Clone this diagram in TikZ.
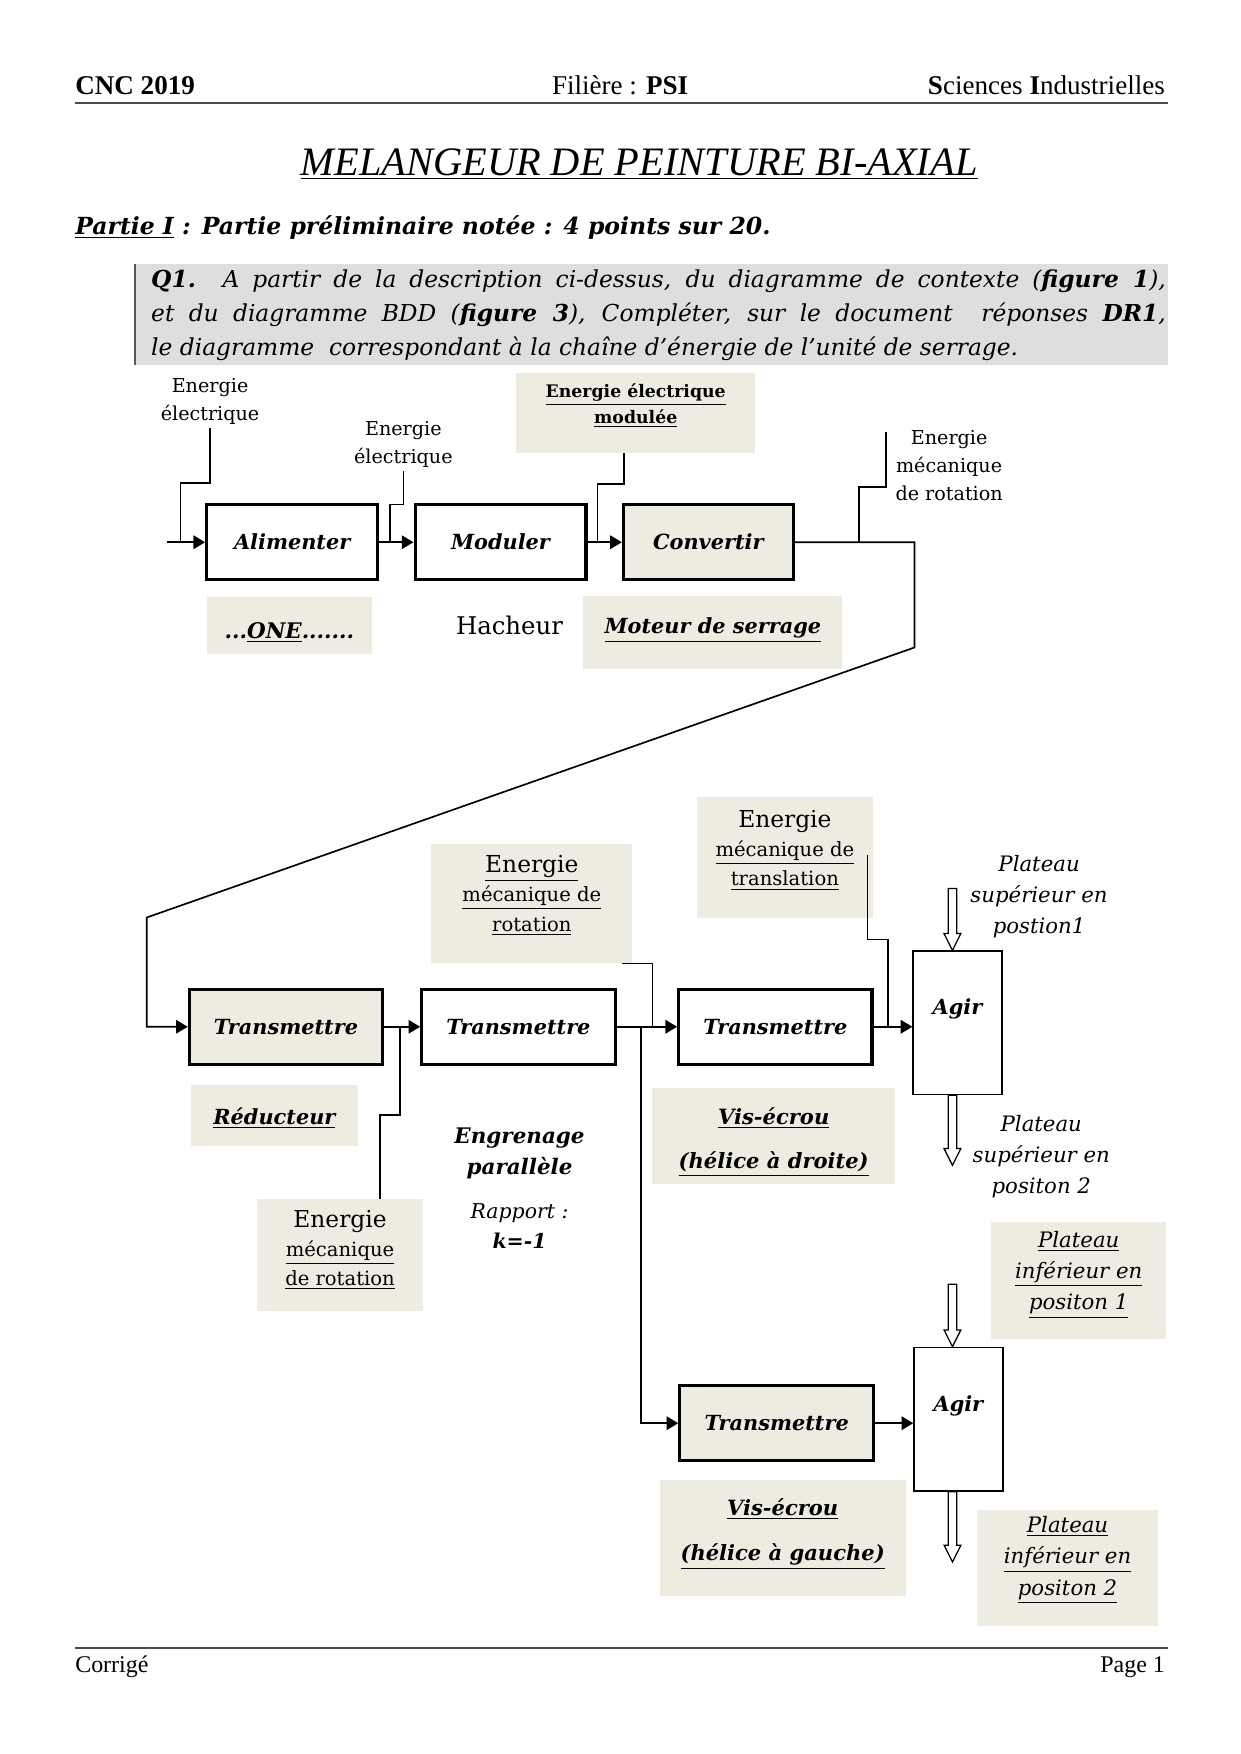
\documentclass[tikz,border=0pt]{standalone}
\usepackage{fontspec}
\setmainfont{DejaVu Serif}
\newfontfamily\hdrfont{Liberation Serif}
\usetikzlibrary{arrows.meta,calc}
\definecolor{beige}{HTML}{EEECE1}
\definecolor{qgray}{HTML}{DEDEDE}
\newcommand\fs[2]{\fontsize{#1}{#2}\selectfont}
\newcommand\hollowarr[2]{%
  \draw[hollow] ($(#1)+(-3.8,0)$) -- ($(#2)+(-3.8,-15)$) -- ($(#2)+(-7.5,-15)$) -- (#2)
    -- ($(#2)+(7.5,-15)$) -- ($(#2)+(3.8,-15)$) -- ($(#1)+(3.8,0)$) -- cycle;}
\begin{document}
\begin{tikzpicture}[x=0.53629pt,y=-0.53629pt,
  blk/.style={draw, line width=1.5pt, inner sep=0pt, font=\fs{10}{12}\bfseries\itshape},
  tan/.style={fill=beige, inner sep=0pt},
  agir/.style={draw, line width=0.8pt, fill=white, inner sep=0pt, minimum width=42.5pt, minimum height=68.8pt,
    label={[font=\fs{10}{12}\bfseries\itshape, yshift=-28.3pt, anchor=center]north:Agir}},
  lbl/.style={inner sep=1.5pt, align=center, font=\fs{9.2}{13.4}},
  tl/.style={align=center, inner sep=0pt},
  conn/.style={line width=0.7pt},
  arr/.style={line width=1pt, -{Triangle[length=5.6pt,width=6.4pt]}},
  hollow/.style={line width=0.6pt, fill=white}]
\fill[white] (0,0) rectangle (1110,1569.9);
\useasboundingbox (0,0) rectangle (1110,1569.9);

% header
\node[anchor=base west, inner sep=0, font=\hdrfont\fs{13}{15}\bfseries] (hd1) at (67,85) {CNC 2019};
\node[anchor=base, inner sep=0, font=\hdrfont\fs{13}{15}] (hd2) at (555,85) {Filière : \textbf{PSI}};
\node[anchor=base east, inner sep=0, font=\hdrfont\fs{13}{15}] (hd3) at (1043,85) {\textbf{S}ciences \textbf{I}ndustrielles};
\draw[line width=0.9pt, black!70] (67,92) -- (1045,92);

\node[anchor=base, inner sep=0, font=\hdrfont\fs{19.4}{22}\itshape] (title) at (572,157) {\underline{MELANGEUR DE PEINTURE BI-AXIAL}};
\node[anchor=base west, inner sep=0, font=\fs{11.3}{13}\bfseries\itshape] (partie) at (67,210) {\underline{Partie I} : Partie préliminaire notée : 4 points sur 20.};

\node[fill=qgray, minimum width=495.5pt, minimum height=48.3pt, inner sep=0, anchor=north west] (q1) at (121,236) {};
\draw[line width=1.1pt, black!65] (q1.north west) -- (q1.south west);
\node[anchor=base west, inner sep=0, font=\fs{11.2}{13}\itshape] (q1a) at (135,257) {\makebox[487pt][s]{\textbf{Q1.} A partir de la description ci-dessus, du diagramme de contexte (\textbf{figure 1}),}};
\node[anchor=base west, inner sep=0, font=\fs{11.2}{13}\itshape] (q1b) at (135,288) {\makebox[487pt][s]{et du diagramme BDD (\textbf{figure 3}), Compléter, sur le document \ réponses \textbf{DR1},}};
\node[anchor=base west, inner sep=0, font=\fs{11.2}{13}\itshape] (q1c) at (135,318) {le diagramme \ correspondant à la chaîne d’énergie de l’unité de serrage.};

% top row
\node[blk, minimum width=82.05pt, minimum height=36.2pt] (alim) at (261.5,485.3) {Alimenter};
\node[blk, minimum width=82.05pt, minimum height=36.2pt] (modul) at (448,485.3) {Moduler};
\node[blk, fill=beige, minimum width=81.5pt, minimum height=36.2pt] (conv) at (634,485.3) {Convertir};

\node[lbl] (ee1) at (188,359.5) {Energie\\électrique};
\node[lbl] (ee2) at (361,398) {Energie\\électrique};
\node[lbl] (emrot) at (849.5,417) {Energie\\mécanique\\de rotation};
\node[tan, minimum width=114.8pt, minimum height=38.1pt,
  label={[tl, yshift=3.5pt, font=\fs{8.3}{12.4}\bfseries]center:{\underline{Energie électrique}\\\underline{modulée}}}] (eem) at (569,369.5) {};

\node[tan, minimum width=79.4pt, minimum height=27.35pt,
  label={[tl, yshift=-3.5pt, font=\fs{10.3}{12}\bfseries\itshape]center:{...\underline{ONE}.......}}] (one) at (259,559.5) {};
\node[tl, font=\fs{11.7}{14}] (hach) at (456,560) {Hacheur};
\node[tan, minimum width=124.4pt, minimum height=35.4pt,
  label={[tl, yshift=1.1pt, font=\fs{10}{12}\bfseries\itshape]center:{\underline{Moteur de serrage}}}] (mot) at (638,566) {};

\coordinate (in0) at (149.2,485.3);
\coordinate (j1) at (161.7,485.3);
\coordinate (j2) at (349,485.3);
\coordinate (j3) at (534.7,485.3);
\coordinate (j4) at (769,485.3);
\coordinate (c4) at (793,386.4);
\coordinate (c5) at (818.5,579.5);
\coordinate (c6) at (131.3,821.2);

\draw[arr] (in0) -- (alim.west);
\draw[conn] (ee1.south) -- ++(0,49) -| (j1);
\draw[arr] (alim.east) -- (modul.west);
\draw[conn] (ee2.south) -- ++(0,30) -| (j2);
\draw[arr] (modul.east) -- (conv.west);
\draw[conn] ([xshift=-5.6pt]eem.south) -- ++(0,27.7) -| (j3);
\draw[conn] (c4) -- ++(0,49.3) -| (j4);

% second part
\node[blk, fill=beige, minimum width=92.8pt, minimum height=35.9pt] (T1) at (256,919) {Transmettre};
\node[blk, minimum width=92.8pt, minimum height=35.9pt] (T2) at (464,919) {Transmettre};
\node[blk, minimum width=92.8pt, minimum height=35.9pt] (T3) at (694,919) {Transmettre};
\node[blk, fill=beige, minimum width=93pt, minimum height=36.2pt] (T4) at (695.2,1273.8) {Transmettre};
\node[agir] (ag1) at (857,915.5) {};
\node[agir] (ag2) at (857.8,1270.2) {};

\draw[line width=0.8pt, -{Triangle[length=5.6pt,width=6.4pt]}] (conv.east) -| (c5) -- (c6) |- (T1.west);

\node[tan, minimum width=79.9pt, minimum height=29.1pt,
  label={[tl, yshift=-1.1pt, font=\fs{10}{12}\bfseries\itshape]center:{\underline{Réducteur}}}] (red) at (245.6,998.5) {};
\node[tan, minimum width=96.5pt, minimum height=57.4pt,
  label={[tl, yshift=3.75pt, font=\fs{9.4}{14}]center:{{\fs{11.2}{14}\underline{Energie}}\\\underline{mécanique de}\\\underline{rotation}}}] (emrm) at (476,808.5) {};
\node[tan, minimum width=84.5pt, minimum height=57.8pt,
  label={[tl, yshift=3.5pt, font=\fs{9.4}{14}]center:{{\fs{11.2}{14}Energie}\\\underline{mécanique de}\\\underline{translation}}}] (emt) at (702.5,767.6) {};
\node[tan, minimum width=79.4pt, minimum height=53.8pt,
  label={[tl, yshift=2.6pt, font=\fs{9.4}{14}]center:{{\fs{11.2}{14}Energie}\\\underline{mécanique}\\\underline{de rotation}}}] (emrb) at (304.35,1123.5) {};
\node[tan, minimum width=116.9pt, minimum height=46.1pt,
  label={[tl, yshift=-2.8pt, font=\fs{10.1}{21.5}\bfseries\itshape]center:{\underline{Vis-écrou}\\\underline{(hélice à droite)}}}] (vis1) at (692.5,1016.7) {};
\node[tan, minimum width=118pt, minimum height=55.6pt,
  label={[tl, yshift=1.9pt, font=\fs{10.1}{21.5}\bfseries\itshape]center:{\underline{Vis-écrou}\\\underline{(hélice à gauche)}}}] (vis2) at (700.5,1376.6) {};
\node[tan, minimum width=84.2pt, minimum height=55.8pt,
  label={[tl, yshift=2.7pt, font=\fs{10.2}{15}\itshape]center:{\underline{Plateau}\\\underline{inférieur en}\\\underline{positon 1}}}] (pi1) at (965.5,1146) {};
\node[tan, minimum width=86.9pt, minimum height=56pt,
  label={[tl, yshift=3.75pt, font=\fs{10.2}{15}\itshape]center:{\underline{Plateau}\\\underline{inférieur en}\\\underline{positon 2}}}] (pi2) at (955.5,1403.3) {};

\node[tl, font=\fs{10.3}{15}\bfseries\itshape] (eng) at (465,1032) {Engrenage\\parallèle};
\node[tl, font=\fs{9.8}{14.5}\itshape] (rap) at (465,1097.5) {Rapport :\\\textbf{k=-1}};
\node[tl, font=\fs{10.2}{14.8}\itshape] (ps1) at (930,802.5) {Plateau\\supérieur en\\postion1};
\node[tl, font=\fs{10.2}{14.8}\itshape] (ps2) at (932,1035.5) {Plateau\\supérieur en\\positon 2};

\coordinate (j5) at (358,919);
\coordinate (j6) at (584,919);
\coordinate (j7) at (573.4,919);
\coordinate (j8) at (794.8,919);
\coordinate (c9) at (776.6,765.4);

\draw[arr] (T1.east) -- (T2.west);
\draw[conn] ([xshift=19.2pt]emrb.north) -- ++(0,-75) -| (j5);
\draw[arr] (T2.east) -- (T3.west);
\draw[conn] ([xshift=-5pt]emrm.south east) -| (j6);
\draw[arr] (j7) |- (T4.west);
\draw[arr] (T3.east) -- (T3.east -| ag1.west);
\draw[conn] (c9) -- (776.6,840.9) -| (j8);
\draw[arr] (T4.east) -- (T4.east -| ag2.west);

\coordinate (h1s) at (852.5,795.2);
\coordinate (h1t) at (h1s |- ag1.north);
\coordinate (h2s) at (h1s |- ag1.south);
\coordinate (h2t) at (852.5,1043);
\coordinate (h3s) at (852.5,1149.4);
\coordinate (h3t) at (h3s |- ag2.north);
\coordinate (h4s) at (h3s |- ag2.south);
\coordinate (h4t) at (852.5,1398);
\hollowarr{h1s}{h1t}
\hollowarr{h2s}{h2t}
\hollowarr{h3s}{h3t}
\hollowarr{h4s}{h4t}

% footer
\draw[line width=0.9pt, black!70] (67,1475) -- (1045,1475);
\node[anchor=base west, inner sep=0, font=\hdrfont\fs{11.5}{13}] (ft1) at (67,1497) {Corrigé};
\node[anchor=base east, inner sep=0, font=\hdrfont\fs{11.5}{13}] (ft2) at (1043,1497) {Page 1};
\end{tikzpicture}
\end{document}
